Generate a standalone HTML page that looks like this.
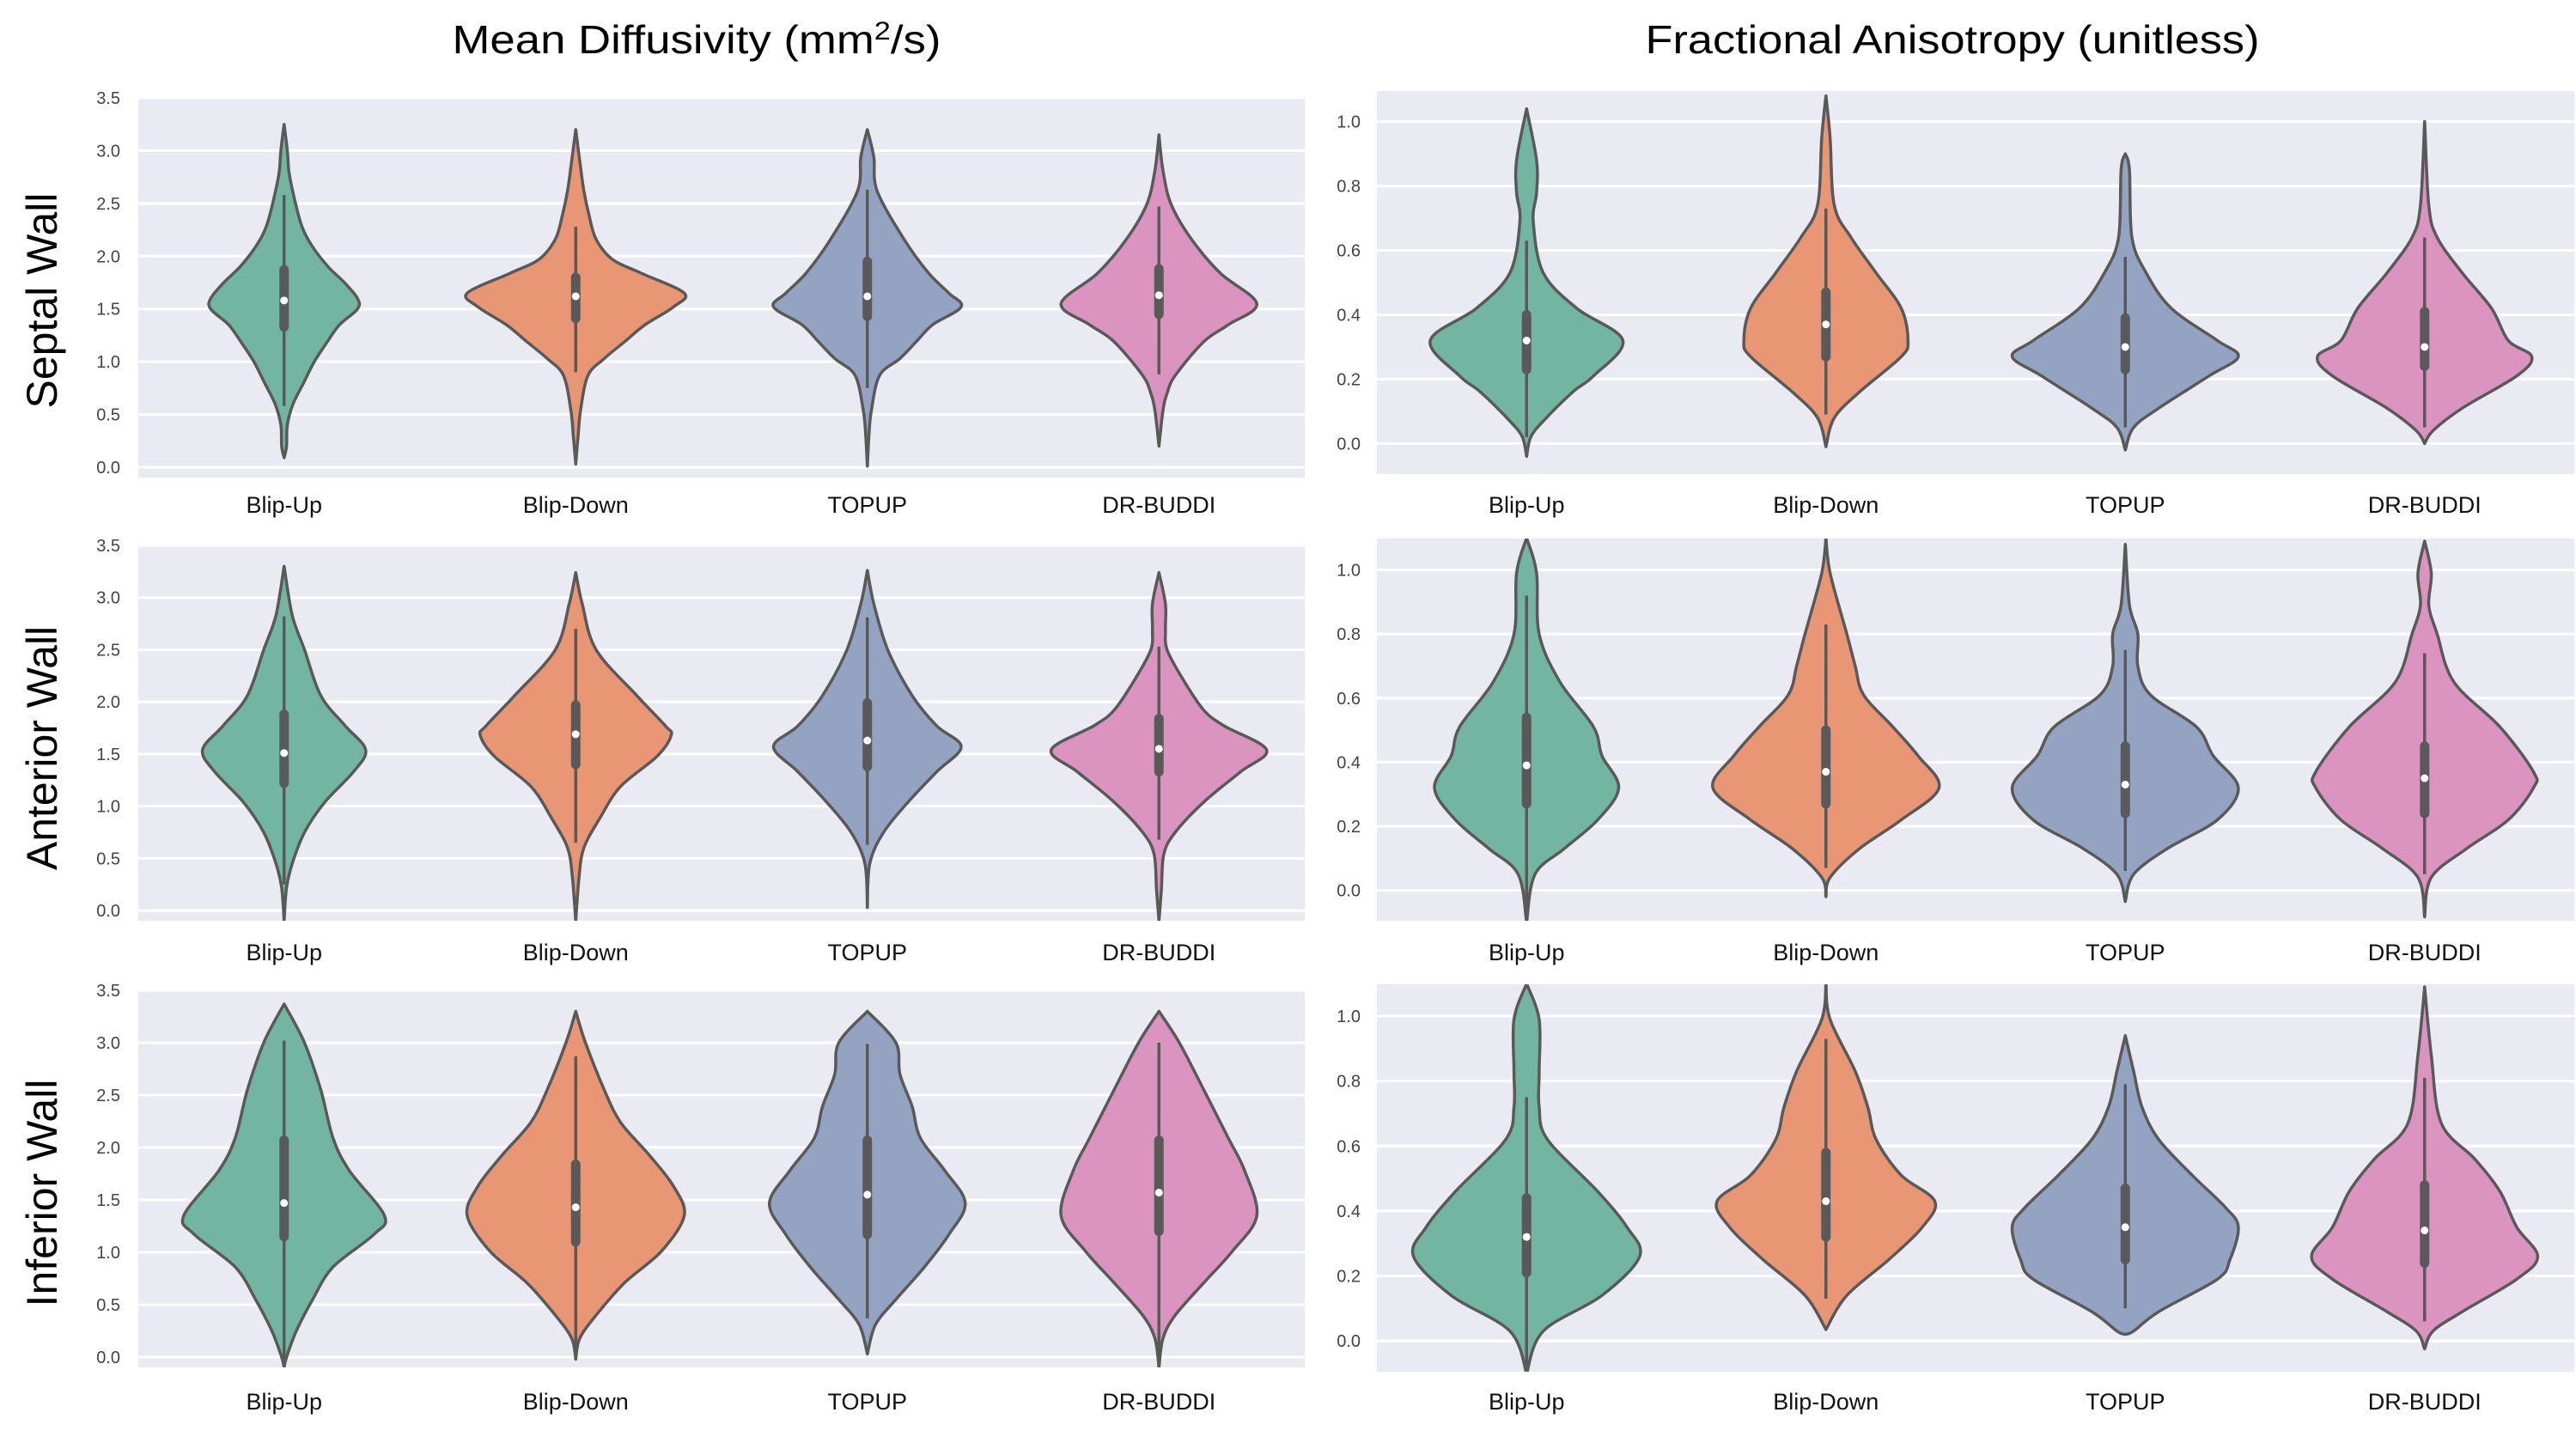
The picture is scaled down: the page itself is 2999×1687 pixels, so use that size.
<!DOCTYPE html>
<html><head><meta charset="utf-8"><style>
html,body{margin:0;padding:0;background:#fff}
svg{display:block}
text{font-family:"Liberation Sans",sans-serif}
</style></head><body>
<svg id="fig" width="2999" height="1687" viewBox="0 0 2999 1687" xmlns="http://www.w3.org/2000/svg">
<text x="811" y="62" font-size="46" text-anchor="middle" textLength="569" lengthAdjust="spacingAndGlyphs">Mean Diffusivity (mm<tspan baseline-shift="super" font-size="30">2</tspan>/s)</text>
<text x="2273" y="62" font-size="46" text-anchor="middle" textLength="715" lengthAdjust="spacingAndGlyphs">Fractional Anisotropy (unitless)</text>
<text transform="translate(66,350) rotate(-90)" font-size="50" text-anchor="middle">Septal Wall</text>
<text transform="translate(66,871) rotate(-90)" font-size="50" text-anchor="middle">Anterior Wall</text>
<text transform="translate(66,1389) rotate(-90)" font-size="50" text-anchor="middle">Inferior Wall</text>
<g id="panels"></g>
</svg>
<script>
const categories = ["Blip-Up","Blip-Down","TOPUP","DR-BUDDI"];
const mdTicks = [0,0.5,1,1.5,2,2.5,3,3.5];
const faTicks = [0,0.2,0.4,0.6,0.8,1.0];
// densities: [value, relative density (0..143)]
const septalMD = [
 [[3.25,0],[3.0,4],[2.8,6],[2.6,11],[2.3,21],[2.1,34],[1.9,54],[1.75,74],[1.6,90],[1.5,90],[1.35,68],[1.2,54],[1.0,37],[0.8,24],[0.6,11],[0.4,4],[0.2,3],[0.09,0]],
 [[3.2,0],[2.9,5],[2.62,10],[2.4,16],[2.16,25],[1.97,45],[1.84,80],[1.65,133],[1.52,120],[1.35,85],[1.19,60],[1.03,35],[0.87,15],[0.54,6],[0.3,3],[0.03,0]],
 [[3.2,0],[2.94,8],[2.62,12],[2.16,45],[1.84,75],[1.65,100],[1.52,115],[1.35,80],[1.19,60],[1.03,40],[0.87,15],[0.54,5],[0.3,2],[0.01,0]],
 [[3.15,0],[2.81,5],[2.49,15],[2.16,40],[1.84,75],[1.55,120],[1.35,85],[1.19,55],[0.87,20],[0.7,10],[0.54,5],[0.2,0]]
];
const anteriorMD = [
 [[3.3,0],[2.83,10],[2.5,25],[2.06,45],[1.77,75],[1.54,100],[1.33,85],[1.04,50],[0.75,25],[0.45,10],[0.22,3],[-0.1,0]],
 [[3.24,0],[2.94,8],[2.5,25],[2.06,75],[1.77,110],[1.68,117],[1.48,100],[1.19,55],[0.89,30],[0.6,10],[0.31,4],[-0.1,0]],
 [[3.26,0],[2.94,8],[2.5,25],[2.06,55],[1.77,85],[1.57,115],[1.33,85],[1.04,50],[0.75,20],[0.45,3],[0.03,0]],
 [[3.24,0],[2.94,8],[2.7,8],[2.5,10],[2.21,30],[1.92,55],[1.77,80],[1.54,132],[1.33,100],[1.04,55],[0.75,20],[0.54,6],[0.2,3],[-0.1,0]]
];
const inferiorMD = [
 [[3.37,0],[3.0,25],[2.55,45],[2.09,60],[1.78,80],[1.35,123],[1.17,110],[0.86,60],[0.55,35],[0.25,15],[0,3],[-0.1,0]],
 [[3.3,0],[3.0,12],[2.55,35],[2.24,55],[1.93,90],[1.63,120],[1.35,133],[1.01,105],[0.71,60],[0.4,25],[0.18,5],[-0.02,0]],
 [[3.3,0],[3.0,35],[2.7,40],[2.39,55],[2.09,65],[1.78,95],[1.47,120],[1.17,100],[0.86,70],[0.55,35],[0.31,10],[0.03,0]],
 [[3.3,0],[3.0,25],[2.55,55],[2.09,85],[1.78,105],[1.35,120],[1.01,90],[0.71,55],[0.4,20],[0.18,5],[-0.1,0]]
];
const septalFA = [
 [[1.04,0],[0.88,12],[0.78,12],[0.69,8],[0.53,20],[0.42,60],[0.32,115],[0.21,80],[0.16,55],[0.07,20],[0.02,5],[-0.04,0]],
 [[1.08,0],[0.95,5],[0.74,10],[0.64,30],[0.53,60],[0.42,90],[0.32,98],[0.27,90],[0.16,40],[0.08,10],[-0.01,0]],
 [[0.9,0],[0.85,5],[0.64,8],[0.53,25],[0.42,55],[0.32,110],[0.27,135],[0.21,100],[0.11,40],[0.05,10],[-0.02,0]],
 [[1.0,0],[0.74,5],[0.64,15],[0.53,45],[0.42,80],[0.32,100],[0.27,128],[0.21,110],[0.11,45],[0.04,10],[0,0]]
];
const anteriorFA = [
 [[1.1,0],[0.99,12],[0.8,15],[0.65,40],[0.51,80],[0.42,90],[0.32,110],[0.22,85],[0.13,45],[0.05,10],[-0.1,0]],
 [[1.1,0],[0.99,5],[0.8,25],[0.7,35],[0.61,45],[0.51,80],[0.42,110],[0.32,135],[0.22,90],[0.13,40],[0.04,5],[-0.02,0]],
 [[1.08,0],[0.89,5],[0.8,15],[0.7,15],[0.61,30],[0.51,85],[0.42,105],[0.32,135],[0.22,110],[0.13,50],[0.05,10],[-0.035,0]],
 [[1.09,0],[0.99,8],[0.89,5],[0.8,15],[0.65,35],[0.51,90],[0.37,130],[0.32,130],[0.22,100],[0.13,50],[0.04,8],[-0.083,0]]
];
const inferiorFA = [
 [[1.1,0],[0.99,15],[0.83,15],[0.72,15],[0.62,25],[0.46,85],[0.35,120],[0.26,135],[0.14,90],[0.03,20],[-0.1,0]],
 [[1.1,0],[0.99,5],[0.83,35],[0.72,50],[0.62,60],[0.51,90],[0.43,130],[0.35,115],[0.25,75],[0.14,25],[0.035,0]],
 [[0.94,0],[0.83,10],[0.72,20],[0.62,40],[0.51,80],[0.41,120],[0.35,135],[0.25,125],[0.19,110],[0.09,40],[0.03,10],[0.02,0]],
 [[1.09,0],[0.88,8],[0.67,20],[0.56,60],[0.46,90],[0.35,110],[0.26,135],[0.19,110],[0.09,45],[0.03,10],[-0.025,0]]
];
// box stats per panel: [q1, median, q3, whiskerLow, whiskerHigh] per category
const septalMDBox = [[1.33,1.58,1.87,0.58,2.58],[1.41,1.62,1.8,0.9,2.28],[1.43,1.62,1.95,0.75,2.63],[1.45,1.63,1.88,0.88,2.47]];
const anteriorMDBox = [[1.22,1.51,1.88,0.25,2.82],[1.4,1.69,1.97,0.65,2.7],[1.38,1.63,1.99,0.63,2.81],[1.33,1.55,1.84,0.68,2.53]];
const inferiorMDBox = [[1.15,1.47,2.07,-0.1,3.02],[1.1,1.43,1.84,0.0,2.87],[1.17,1.55,2.07,0.37,2.99],[1.2,1.57,2.07,-0.1,3.0]];
const septalFABox = [[0.23,0.32,0.4,0.02,0.63],[0.27,0.37,0.47,0.09,0.73],[0.23,0.3,0.39,0.05,0.58],[0.24,0.3,0.41,0.05,0.64]];
const anteriorFABox = [[0.27,0.39,0.54,-0.1,0.92],[0.27,0.37,0.5,0.07,0.83],[0.24,0.33,0.45,0.06,0.75],[0.24,0.35,0.45,0.05,0.74]];
const inferiorFABox = [[0.21,0.32,0.44,-0.1,0.75],[0.32,0.43,0.58,0.13,0.93],[0.25,0.35,0.47,0.1,0.79],[0.24,0.34,0.48,0.06,0.81]];

const colors = ["#72b6a1","#e99675","#95a3c3","#db93bf"];
const NS = "http://www.w3.org/2000/svg";
const root = document.getElementById("panels");

const panels = [
 {name:"septal-md", dens:septalMD, box:septalMDBox, ticks:mdTicks, dec:1, x0:161,x1:1519,top:114,bot:556,ymin:-0.098,ymax:3.5,labY:597,tickX:140},
 {name:"anterior-md", dens:anteriorMD, box:anteriorMDBox, ticks:mdTicks, dec:1, x0:161,x1:1519,top:635,bot:1072,ymin:-0.098,ymax:3.5,labY:1118,tickX:140},
 {name:"inferior-md", dens:inferiorMD, box:inferiorMDBox, ticks:mdTicks, dec:1, x0:161,x1:1519,top:1153,bot:1592,ymin:-0.098,ymax:3.5,labY:1641,tickX:140},
 {name:"septal-fa", dens:septalFA, box:septalFABox, ticks:faTicks, dec:1, x0:1603,x1:2997,top:106,bot:552,ymin:-0.095,ymax:1.095,labY:597,tickX:1584},
 {name:"anterior-fa", dens:anteriorFA, box:anteriorFABox, ticks:faTicks, dec:1, x0:1603,x1:2997,top:627,bot:1072,ymin:-0.095,ymax:1.098,labY:1118,tickX:1584},
 {name:"inferior-fa", dens:inferiorFA, box:inferiorFABox, ticks:faTicks, dec:1, x0:1603,x1:2997,top:1146,bot:1597,ymin:-0.095,ymax:1.098,labY:1641,tickX:1584}
];

function mk(tag, attrs, parent){
  const e = document.createElementNS(NS, tag);
  for (const k in attrs) e.setAttribute(k, attrs[k]);
  parent.appendChild(e);
  return e;
}
function crPath(pts){
  let d = "M" + pts[0][0].toFixed(1) + "," + pts[0][1].toFixed(1);
  for (let i=0;i<pts.length-1;i++){
    const p0 = pts[Math.max(0,i-1)], p1 = pts[i], p2 = pts[i+1], p3 = pts[Math.min(pts.length-1,i+2)];
    const c1x = p1[0]+(p2[0]-p0[0])/6, c1y = p1[1]+(p2[1]-p0[1])/6;
    const c2x = p2[0]-(p3[0]-p1[0])/6, c2y = p2[1]-(p3[1]-p1[1])/6;
    d += " C"+c1x.toFixed(1)+","+c1y.toFixed(1)+" "+c2x.toFixed(1)+","+c2y.toFixed(1)+" "+p2[0].toFixed(1)+","+p2[1].toFixed(1);
  }
  return d;
}

panels.forEach((P, pi) => {
  const g = mk("g", {}, root);
  
  
  const n = categories.length;
  const step = (P.x1 - P.x0) / n;
  const xScale = i => P.x0 + step * (i + 0.5);
  const yScale = v => P.bot - (v - P.ymin) / (P.ymax - P.ymin) * (P.bot - P.top);
  const maxHalf = step * 0.4;
  const bg = mk("rect", {x:P.x0, y:P.top, width:P.x1-P.x0, height:P.bot-P.top, fill:"#eaeaf2"}, g);
  
  
  const clipId = "clip" + pi;
  const cp = mk("clipPath", {id:clipId}, g);
  mk("rect", {x:P.x0, y:P.top, width:P.x1-P.x0, height:P.bot-P.top}, cp);
  P.ticks.forEach(t => {
    const y = yScale(t);
    const gl = mk("line", {x1:P.x0, x2:P.x1, y1:y, y2:y, stroke:"#ffffff", "stroke-width":3}, g);
    
    
    const tl = mk("text", {x:P.tickX, y:y+7, "font-size":20, fill:"#444", "text-anchor":"end"}, g);
    tl.textContent = t.toFixed(P.dec);
    
    
  });
  const vg = mk("g", {"clip-path":"url(#"+clipId+")"}, g);
  P.dens.forEach((dens, i) => {
    const cx = xScale(i);
    const right = dens.map(d => [cx + d[1]/143*maxHalf, yScale(d[0])]);
    const left = dens.slice().reverse().map(d => [cx - d[1]/143*maxHalf, yScale(d[0])]);
    const d = crPath(right) + " L" + crPath(left).slice(1) + " Z";
    const body = mk("path", {d:d, fill:colors[i], stroke:"#595959", "stroke-width":3.5, "stroke-linejoin":"round"}, vg);
    
    
    const b = P.box[i];
    const wl = mk("line", {x1:cx, x2:cx, y1:yScale(b[3]), y2:yScale(b[4]), stroke:"#595959", "stroke-width":3.5}, vg);
    
    
    const iqr = mk("line", {x1:cx, x2:cx, y1:yScale(b[0]), y2:yScale(b[2]), stroke:"#595959", "stroke-width":11, "stroke-linecap":"round"}, vg);
    
    
    const md = mk("circle", {cx:cx, cy:yScale(b[1]), r:4.5, fill:"#ffffff"}, vg);
    
    
  });
  categories.forEach((c, i) => {
    const xl = mk("text", {x:xScale(i), y:P.labY, "font-size":27, fill:"#111", "text-anchor":"middle"}, g);
    xl.textContent = c;
    
    
  });
});
</script>
</body></html>
